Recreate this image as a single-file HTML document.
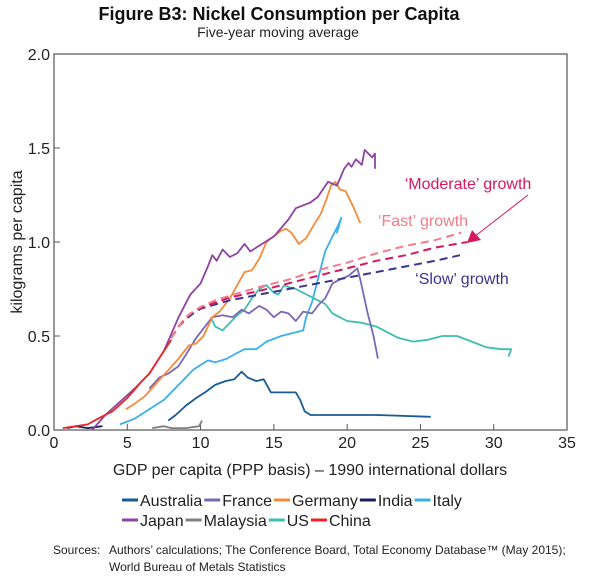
<!DOCTYPE html>
<html><head><meta charset="utf-8"><style>
body{margin:0;background:#fff;}
svg{display:block;font-family:"Liberation Sans",Arial,sans-serif;}
</style></head><body>
<svg id="chart" width="600" height="577" viewBox="0 0 600 577">
<text x="279" y="20" text-anchor="middle" font-size="18" font-weight="bold" fill="#111">Figure B3: Nickel Consumption per Capita</text>
<text x="278" y="37" text-anchor="middle" font-size="14" fill="#222">Five-year moving average</text>
<rect x="54" y="54" width="513" height="376" fill="none" stroke="#555" stroke-width="1.2"/>
<g id="axes"></g>
<g id="series"></g>
<text transform="translate(22,242) rotate(-90)" text-anchor="middle" font-size="16" fill="#222">kilograms per capita</text>
<text x="310" y="475" text-anchor="middle" font-size="16" fill="#222">GDP per capita (PPP basis) – 1990 international dollars</text>
<text x="468" y="189" text-anchor="middle" font-size="16" fill="#d6185f">‘Moderate’ growth</text>
<text x="423" y="226" text-anchor="middle" font-size="16" fill="#f27c8a">‘Fast’ growth</text>
<text x="462" y="284" text-anchor="middle" font-size="16" fill="#3a3590">‘Slow’ growth</text>
<line x1="528" y1="195" x2="474" y2="237" stroke="#d6185f" stroke-width="1"/>
<polygon points="467,243 472,230 481,240" fill="#d6185f"/>
<g id="legend"></g>
<text x="53" y="554" font-size="12" fill="#222">Sources:</text>
<text x="109" y="554" font-size="12" fill="#222">Authors’ calculations; The Conference Board, Total Economy Database™ (May 2015);</text>
<text x="109" y="571" font-size="12" fill="#222">World Bureau of Metals Statistics</text>
</svg>
<script>
const xTicks=[0,5,10,15,20,25,30,35];
const yTicks=[0,0.5,1.0,1.5,2.0];
const yTickLabels=["0.0","0.5","1.0","1.5","2.0"];
const australia=[[7.8,0.05],[8.3,0.08],[9,0.13],[9.7,0.17],[10.3,0.2],[11,0.24],[11.7,0.26],[12.3,0.27],[12.8,0.31],[13.2,0.28],[13.8,0.26],[14.3,0.27],[14.8,0.2],[15.5,0.2],[16.5,0.2],[16.8,0.16],[17.1,0.1],[17.5,0.08],[20,0.08],[22,0.08],[25.7,0.07]];
const france=[[6.5,0.22],[7.2,0.28],[7.8,0.3],[8.5,0.34],[9,0.4],[9.7,0.49],[10.3,0.55],[10.8,0.6],[11.5,0.61],[12.2,0.6],[12.8,0.64],[13.3,0.62],[14,0.66],[14.5,0.64],[15,0.6],[15.5,0.63],[16,0.62],[16.5,0.58],[17,0.63],[17.6,0.62],[18.1,0.67],[18.5,0.7],[19,0.78],[19.5,0.8],[20.1,0.82],[20.7,0.86],[20.9,0.8],[21.4,0.62],[21.8,0.5],[22.1,0.38]];
const germany=[[4.9,0.11],[5.5,0.14],[6.2,0.18],[7,0.25],[7.7,0.31],[8.5,0.38],[9.2,0.45],[9.7,0.46],[10.2,0.5],[10.8,0.6],[11.3,0.63],[12,0.7],[12.5,0.77],[13,0.84],[13.5,0.85],[14,0.91],[14.5,1.0],[15.5,1.06],[15.8,1.07],[16.2,1.05],[16.7,0.99],[17.2,1.02],[17.8,1.1],[18.2,1.15],[18.6,1.23],[18.9,1.3],[19.2,1.32],[19.5,1.28],[19.9,1.27],[20.4,1.19],[20.9,1.1]];
const india=[[0.9,0.01],[1.5,0.02],[2.3,0.01],[3.3,0.02]];
const italy=[[4.5,0.03],[5.5,0.06],[6.5,0.11],[7.5,0.16],[8.5,0.24],[9.5,0.32],[10.5,0.37],[11,0.36],[11.8,0.38],[12.5,0.41],[13,0.43],[13.8,0.43],[14.5,0.47],[15.5,0.5],[16.5,0.52],[17,0.53],[17.2,0.6],[17.6,0.68],[18,0.8],[18.5,0.95],[19,1.03],[19.4,1.09],[19.6,1.13],[19.3,1.05],[19.5,1.1]];
const japan=[[2.6,0.0],[3.5,0.08],[4.5,0.15],[5.5,0.22],[6.5,0.3],[7.5,0.42],[8.5,0.6],[9.3,0.72],[10,0.78],[10.5,0.87],[10.8,0.93],[11.1,0.9],[11.5,0.96],[12,0.92],[12.5,0.94],[13,0.99],[13.4,0.95],[14,0.98],[15,1.03],[16,1.12],[16.5,1.18],[17.5,1.21],[18,1.24],[18.7,1.32],[19.3,1.3],[19.8,1.39],[20.1,1.42],[20.3,1.4],[20.6,1.44],[21,1.41],[21.2,1.49],[21.7,1.45],[21.9,1.47],[21.9,1.39]];
const malaysia=[[6.7,0.01],[7.5,0.02],[8,0.01],[9,0.01],[9.9,0.02],[10.1,0.05]];
const us=[[10.7,0.6],[11,0.55],[11.5,0.53],[12,0.57],[12.5,0.61],[13,0.64],[13.5,0.7],[14,0.75],[14.5,0.77],[15,0.73],[15.3,0.72],[15.7,0.77],[16,0.76],[16.5,0.75],[17,0.73],[17.5,0.71],[18,0.69],[18.5,0.67],[19,0.62],[19.5,0.6],[20,0.58],[21,0.57],[22,0.55],[22.5,0.53],[23.5,0.49],[24.5,0.47],[25.5,0.48],[26.5,0.5],[27.5,0.5],[28.5,0.47],[29.5,0.44],[30.5,0.43],[31.2,0.43],[31,0.39]];
const china=[[0.6,0.01],[1.5,0.02],[2.3,0.03],[3,0.06],[4,0.1],[5,0.17],[6,0.26],[6.5,0.3],[7,0.36],[7.5,0.42],[8,0.48]];
const fastGrowth=[[8,0.49],[8.5,0.55],[9,0.6],[9.5,0.63],[10,0.655],[11,0.69],[12,0.715],[14,0.76],[16,0.8],[18,0.85],[20,0.89],[22,0.94],[24,0.98],[26,1.01],[27.8,1.05]];
const moderateGrowth=[[8,0.49],[8.5,0.55],[9,0.6],[9.5,0.63],[10,0.65],[12,0.705],[14,0.74],[16,0.78],[18,0.82],[20,0.86],[22,0.9],[24,0.93],[26,0.97],[28.2,1.0]];
const slowGrowth=[[8,0.49],[8.5,0.55],[9,0.59],[9.5,0.62],[10,0.645],[12,0.69],[14,0.72],[16,0.75],[18,0.78],[20,0.81],[22,0.84],[24,0.87],[26,0.9],[27.7,0.93]];

const NS="http://www.w3.org/2000/svg";
function xs(v){return 54+v*513/35;}
function ys(v){return 430-v*188;}
const axes=document.getElementById('axes');
xTicks.forEach(t=>{
  if(t>0&&t<35){const l=document.createElementNS(NS,'line');
  l.setAttribute('x1',xs(t));l.setAttribute('x2',xs(t));l.setAttribute('y1',430);l.setAttribute('y2',424);
  l.setAttribute('stroke','#555');
  
  
  axes.appendChild(l);}
  const tx=document.createElementNS(NS,'text');
  tx.setAttribute('x',xs(t));tx.setAttribute('y',448);tx.setAttribute('text-anchor','middle');
  tx.setAttribute('font-size','16');tx.setAttribute('fill','#222');tx.textContent=t;
  
  
  axes.appendChild(tx);
});
yTicks.forEach((t,i)=>{
  if(t>0&&t<2){const l=document.createElementNS(NS,'line');
  l.setAttribute('x1',54);l.setAttribute('x2',60);l.setAttribute('y1',ys(t));l.setAttribute('y2',ys(t));
  l.setAttribute('stroke','#555');
  
  
  axes.appendChild(l);}
  const tx=document.createElementNS(NS,'text');
  tx.setAttribute('x',50);tx.setAttribute('y',ys(t)+6);tx.setAttribute('text-anchor','end');
  tx.setAttribute('font-size','16');tx.setAttribute('fill','#222');tx.textContent=yTickLabels[i];
  
  
  axes.appendChild(tx);
});
const g=document.getElementById('series');
function draw(data,color,name,dash){
  const p=document.createElementNS(NS,'polyline');
  p.setAttribute('points',data.map(d=>xs(d[0]).toFixed(1)+','+ys(d[1]).toFixed(1)).join(' '));
  p.setAttribute('fill','none');p.setAttribute('stroke',color);p.setAttribute('stroke-width',dash?'2':'1.8');
  p.setAttribute('stroke-linejoin','round');
  if(dash)p.setAttribute('stroke-dasharray','8,5');
  
  
  g.appendChild(p);
}
draw(australia,'#1a5b96','australia-line');
draw(india,'#1a1f5c','india-line');
draw(malaysia,'#808080','malaysia-line');
draw(italy,'#3ab0e6','italy-line');
draw(us,'#3dbfb0','us-line');
draw(france,'#7b68b5','france-line');
draw(germany,'#f58b3a','germany-line');
draw(japan,'#8e44a0','japan-line');
draw(china,'#e8252a','china-line');
draw(slowGrowth,'#3a3590','slow-growth-line',true);
draw(moderateGrowth,'#d6185f','moderate-growth-line',true);
draw(fastGrowth,'#f27c8a','fast-growth-line',true);

const legendNames=[["Australia","France","Germany","India","Italy"],["Japan","Malaysia","US","China"]];
const legendColors=[["#1a5b96","#7b68b5","#f58b3a","#1a1f5c","#3ab0e6"],["#8e44a0","#808080","#3dbfb0","#e8252a"]];
const lg=document.getElementById('legend');
legendNames.forEach((row,r)=>{
  let x=122;const y=r?520:500;
  row.forEach((n,i)=>{
    const l=document.createElementNS(NS,'line');
    l.setAttribute('x1',x);l.setAttribute('x2',x+16);l.setAttribute('y1',y);l.setAttribute('y2',y);
    l.setAttribute('stroke',legendColors[r][i]);l.setAttribute('stroke-width','3');
    
    
    lg.appendChild(l);
    const t=document.createElementNS(NS,'text');
    t.setAttribute('x',x+18);t.setAttribute('y',y+6);t.setAttribute('font-size','16');t.setAttribute('fill','#222');
    t.textContent=n;
    
    
    lg.appendChild(t);
    x+=18+t.getComputedTextLength()+2;
  });
});
</script>
</body></html>
